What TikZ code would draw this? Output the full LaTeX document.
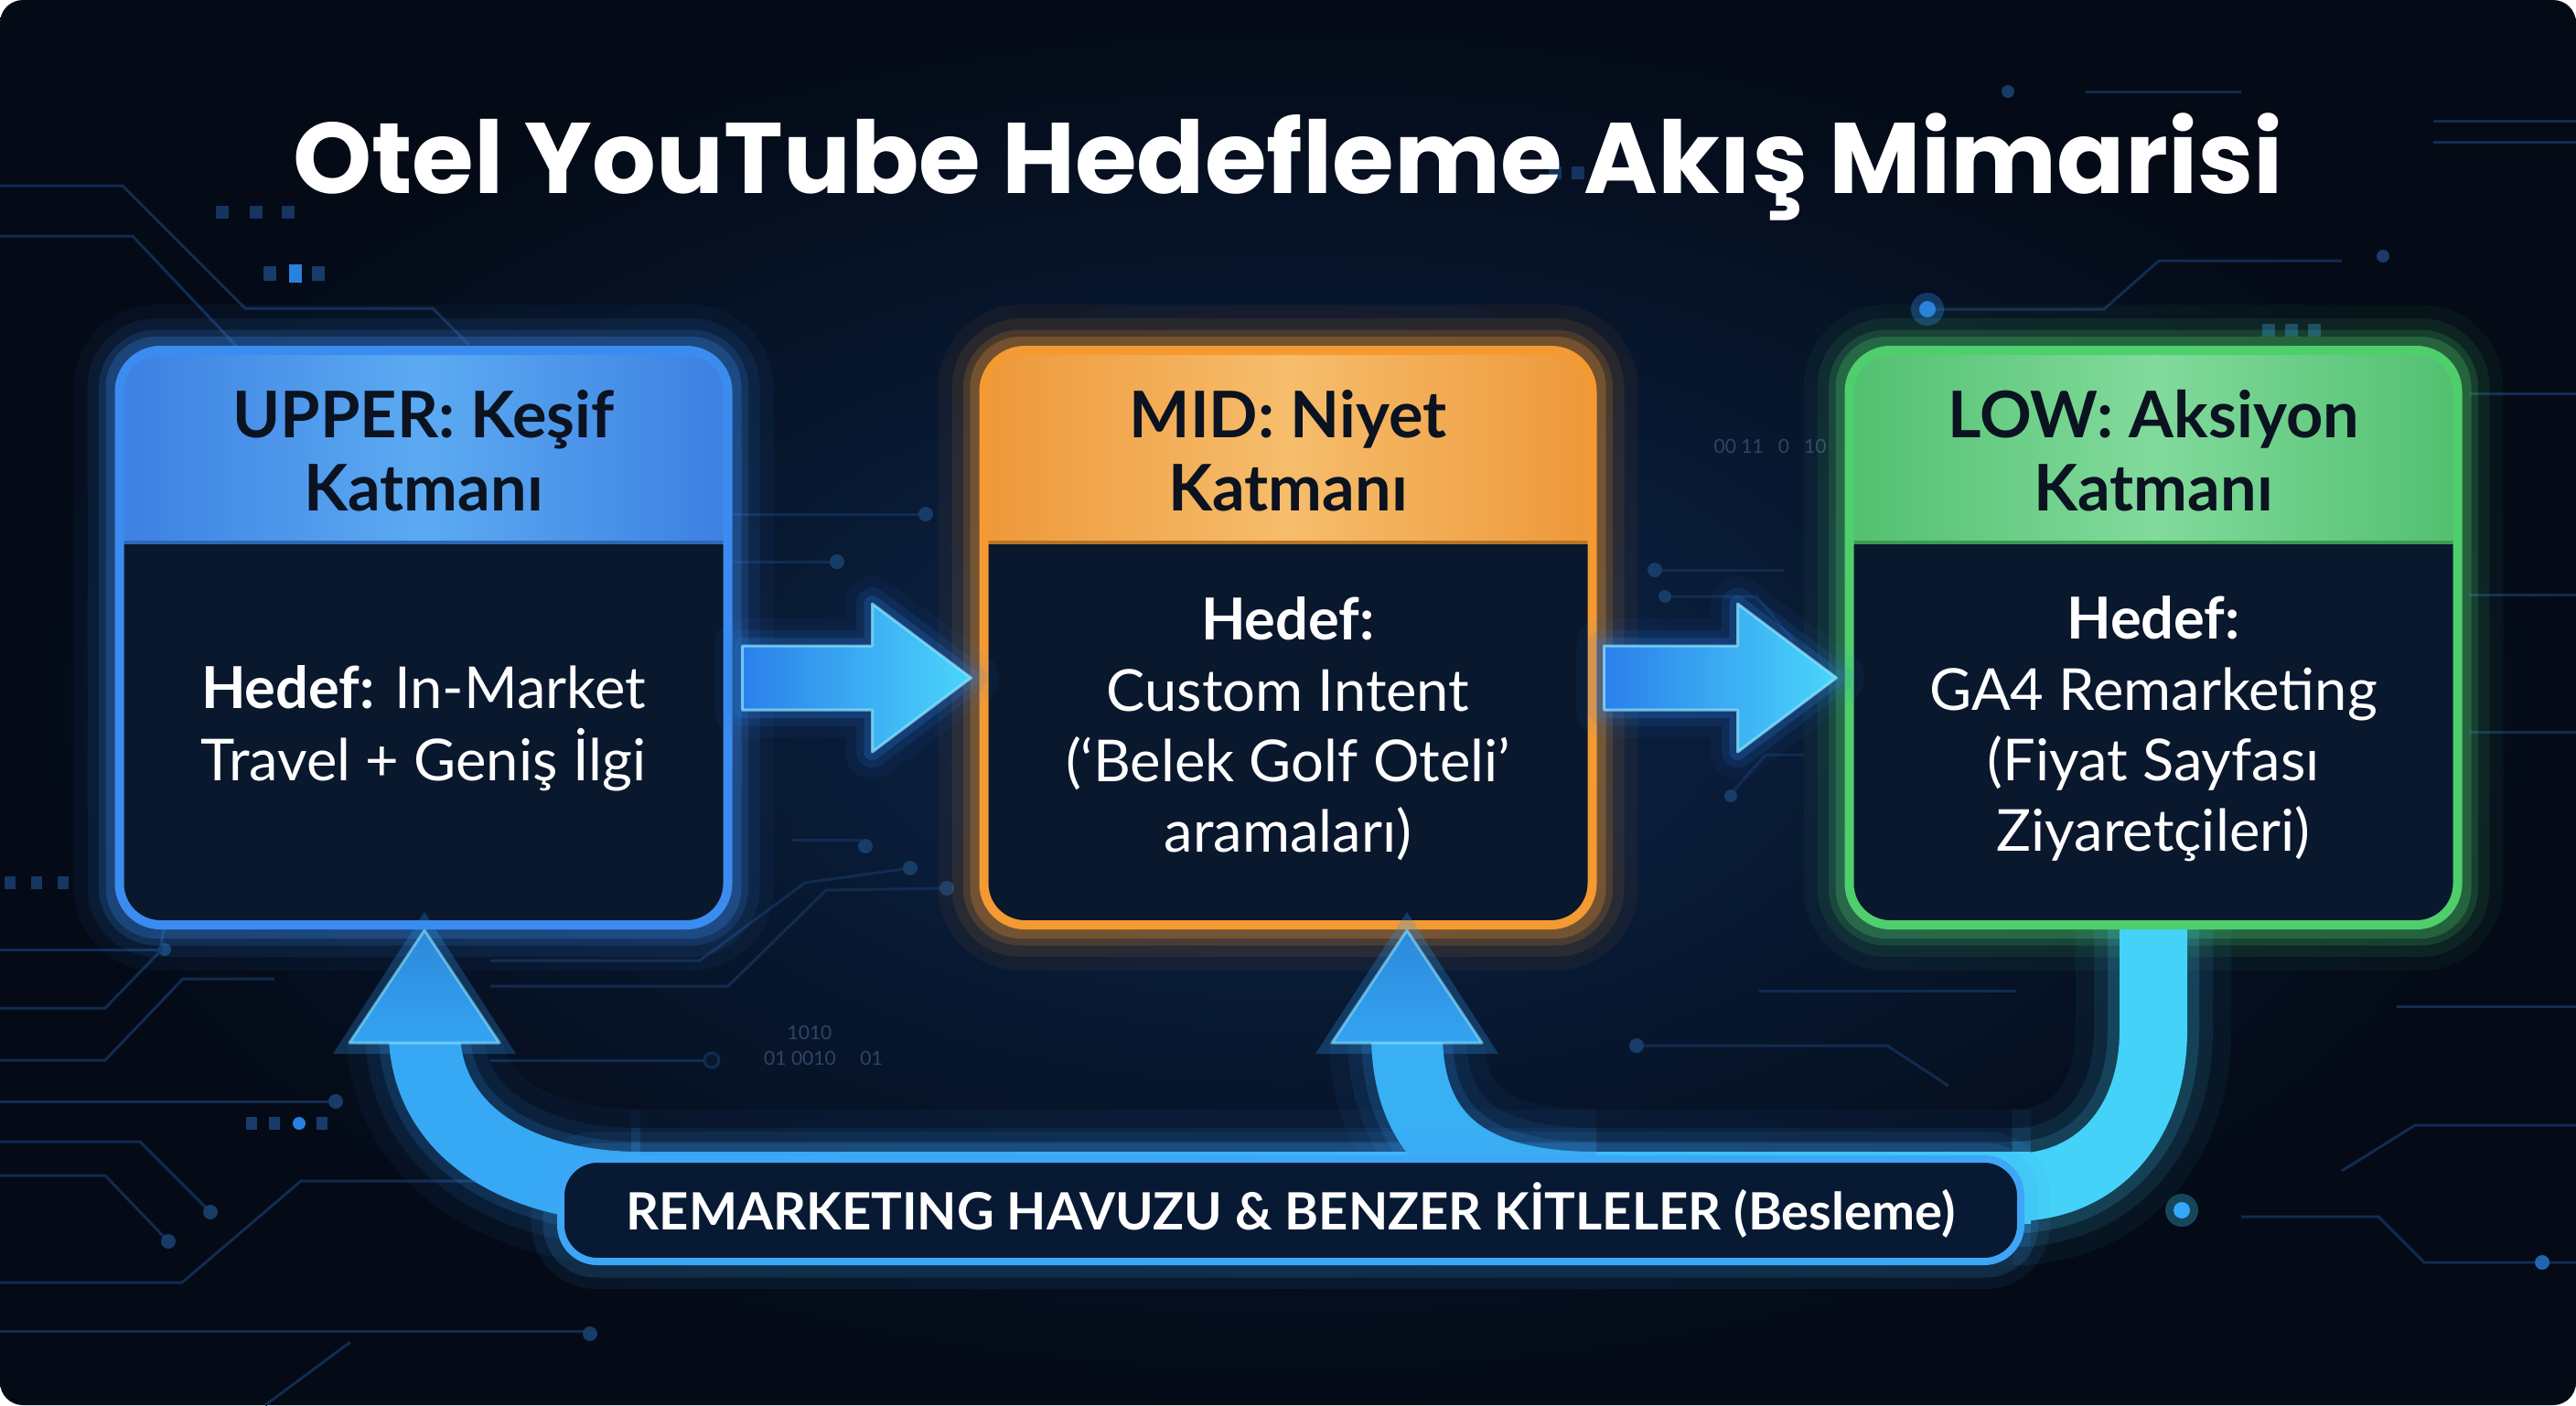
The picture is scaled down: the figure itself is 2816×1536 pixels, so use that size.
\documentclass[tikz,border=0pt]{standalone}
\usepackage{fontspec}
\setmainfont{Lato}
\newfontfamily\titlefont{Poppins}
\usetikzlibrary{calc}
\definecolor{bgin}{HTML}{0C2549}
\definecolor{bgout}{HTML}{040A16}
\definecolor{trace}{HTML}{112C50}
\definecolor{tracedot}{HTML}{173C68}
\definecolor{bodyc}{HTML}{0A182E}
\definecolor{blueB}{HTML}{3B8CF0}
\definecolor{blueH}{HTML}{3C80E2}
\definecolor{blueHm}{HTML}{5CAAF2}
\definecolor{orB}{HTML}{F59A32}
\definecolor{orH}{HTML}{EE983A}
\definecolor{orHm}{HTML}{F6BD6C}
\definecolor{grB}{HTML}{4ECF6C}
\definecolor{grH}{HTML}{52C070}
\definecolor{grHm}{HTML}{82DA9C}
\definecolor{hdrtxt}{HTML}{0B1220}
\definecolor{arrL}{HTML}{2B80EA}
\definecolor{arrR}{HTML}{4AD6FB}
\definecolor{fbBlue}{HTML}{3198F2}
\definecolor{fbCyan}{HTML}{44D2F8}
\definecolor{pillB}{HTML}{3EA6F6}
\definecolor{pillF}{HTML}{081A33}
\definecolor{bright}{HTML}{2A80DE}
\pgfdeclarelayer{back}
\pgfdeclarelayer{glow}
\pgfsetlayers{back,glow,main}
\tikzset{
  layerbox/.style n args={3}{rectangle, rounded corners=4.5mm, minimum width=66.5mm,
    minimum height=62.8mm, draw=#1, line width=1mm, fill=bodyc, inner sep=0pt,
    path picture={
      \shade[sharp corners, left color=#2, right color=#2, middle color=#3]
        (path picture bounding box.north west) rectangle
        ($(path picture bounding box.north east)+(0,210)$);
      \draw[sharp corners, #1!75!black, line width=0.4mm]
        ($(path picture bounding box.north west)+(0,210)$) --
        ($(path picture bounding box.north east)+(0,210)$);}},
  hdr/.style={font=\bfseries\fontsize{20}{22.8}\selectfont, text=hdrtxt, align=center, inner sep=0pt},
  bodytxt/.style={font=\fontsize{18}{22}\selectfont, text=white, align=center, inner sep=0pt},
  pill/.style={rectangle, rounded corners=4mm, minimum width=159.6mm, minimum height=11.2mm,
    fill=pillF, draw=pillB, line width=0.8mm, text=white, inner sep=0pt,
    font=\bfseries\fontsize{16}{18}\selectfont},
  trace/.style={draw=trace, line width=0.3mm},
  tdot/.style={fill=tracedot},
  bin/.style={text=trace!80!white!60!trace, font=\fontsize{6}{7}\selectfont, inner sep=0pt},
  fbstroke/.style={line width=7.8mm}
}
\begin{document}
\begin{tikzpicture}[x=0.1mm,y=-0.1mm]
\useasboundingbox (0,0) rectangle (2816,1536);

% ---------- background ----------
\begin{pgfonlayer}{back}
\fill[white] (0,0) rectangle (2816,1536);
\shade[inner color=bgin, outer color=bgout, rounded corners=2.5mm] (0,0) rectangle (2816,1536);
% circuit traces
\draw[trace] (0,203)--(134,203)--(268,337)--(473,337)--(513,377);
\draw[trace] (0,258)--(145,258)--(260,380);
\draw[trace] (0,1038)--(180,1038); \fill[tdot] (180,1038) circle (7);
\draw[trace] (0,1102)--(115,1102)--(175,1040)--(180,1010);
\draw[trace] (0,1159)--(115,1159)--(200,1070)--(300,1070);
\draw[trace] (0,1204)--(367,1204); \fill[tdot] (367,1204) circle (8);
\draw[trace] (0,1248)--(153,1248)--(230,1325); \fill[tdot] (230,1325) circle (8);
\draw[trace] (0,1285)--(115,1285)--(184,1357); \fill[tdot] (184,1357) circle (8);
\draw[trace] (0,1402)--(199,1402)--(329,1291)--(560,1291);
\draw[trace] (0,1455)--(640,1455); \fill[tdot] (645,1458) circle (8);
\draw[trace] (383,1467)--(290,1536);
\draw[trace] (802,562)--(1010,562); \fill[tdot] (1012,562) circle (8);
\draw[trace] (802,614)--(913,614); \fill[tdot] (915,614) circle (8);
\draw[trace] (536,1050)--(765,1050)--(880,965)--(995,949); \fill[tdot] (995,949) circle (8);
\draw[trace] (536,1078)--(796,1078)--(903,973)--(1033,971); \fill[tdot] (1035,971) circle (8);
\draw[trace] (865,918)--(941,918); \fill[tdot] (946,925) circle (8);
\draw[trace] (536,1159)--(773,1159); \draw[trace, fill=bodyc] (778,1159) circle (8);
\draw[trace] (1923,1083)--(2204,1083);
\draw[trace] (1789,1143)--(2063,1143)--(2130,1187); \fill[tdot] (1789,1143) circle (8);
\draw[trace] (1809,623)--(1950,623); \fill[tdot] (1809,623) circle (8);
\draw[trace] (1820,652)--(1920,652)--(1960,700); \fill[tdot] (1820,652) circle (7);
\draw[trace] (1972,825)--(1930,825)--(1890,870); \fill[tdot] (1892,870) circle (7);
\draw[trace] (2280,100)--(2450,100); \fill[tdot] (2195,100) circle (7);
\draw[trace] (2660,132)--(2816,132);
\draw[trace] (2660,155)--(2816,155);
\draw[trace] (2107,338)--(2300,338)--(2360,285)--(2560,285); \fill[tdot] (2605,280) circle (7);
\draw[trace] (2700,430)--(2816,430);
\draw[trace] (2700,650)--(2816,650);
\draw[trace] (2700,800)--(2816,800);
\draw[trace] (2620,1100)--(2816,1100);
\draw[trace] (2560,1280)--(2640,1230)--(2816,1230);
\draw[trace] (2450,1330)--(2600,1330)--(2650,1380)--(2816,1380);
% square markers and bright dots
\foreach \x in {243,280,315} \fill[tracedot!70!bgin] (\x-7,225) rectangle (\x+7,239);
\fill[tracedot] (288,291) rectangle (302,307);
\fill[bright] (316,289) rectangle (330,309);
\fill[tracedot] (341,291) rectangle (355,307);
\foreach \x in {11,40,69} \fill[tracedot!80!bgin] (\x-6,958) rectangle (\x+6,972);
\foreach \x in {275,300,352} \fill[tracedot] (\x-6,1221) rectangle (\x+6,1235);
\fill[bright] (327,1228) circle (7);
\foreach \x in {1700,1725,1750} \fill[tracedot!70!bgin] (\x-7,182) rectangle (\x+7,196);
\foreach \x in {2480,2505,2530} \fill[tracedot] (\x-7,354) rectangle (\x+7,368);
\fill[bright, opacity=0.35] (2107,338) circle (18);
\fill[bright] (2107,338) circle (9);
\fill[fbCyan, opacity=0.3] (2385,1323) circle (18);
\fill[fbCyan!80!blue] (2385,1323) circle (9);
\fill[bright!70!bgin] (2779,1380) circle (8);
\node[bin] (bin1) at (885,1129) {1010};
\node[bin] (bin2) at (900,1157) {01 0010 \quad 01};
\node[bin] (bin3) at (1935,488) {00 11 \enspace 0 \enspace 10};
\end{pgfonlayer}

% ---------- title ----------
\node[font=\titlefont\bfseries\fontsize{31.2}{35}\selectfont, text=white, anchor=base] (title)
  at (1408,211) {Otel YouTube Hedefleme Akış Mimarisi};

% ---------- layer boxes ----------
\node[layerbox={blueB}{blueH}{blueHm}] (upper) at (463,697) {};
\node[layerbox={orB}{orH}{orHm}] (mid) at (1408,697) {};
\node[layerbox={grB}{grH}{grHm}] (low) at (2354,697) {};

\begin{pgfonlayer}{glow}
\foreach \n/\c in {upper/blueB, mid/orB, low/grB}{
  \foreach \w/\o in {9mm/0.05, 6mm/0.09, 3.5mm/0.16, 2mm/0.25}{
    \draw[\c, line width=\w, opacity=\o, rounded corners=4.5mm] (\n.north west) rectangle (\n.south east);
  }
}
\end{pgfonlayer}

\node[hdr] (upperH) at (463,493) {UPPER: Keşif\\Katmanı};
\node[hdr] (midH) at (1408,493) {MID: Niyet\\Katmanı};
\node[hdr] (lowH) at (2354,493) {LOW: Aksiyon\\Katmanı};

\node[bodytxt, font=\fontsize{18}{22.5}\selectfont] (upperB) at (463,796)
  {\textbf{Hedef:} In-Market\\Travel + Geniş İlgi};
\node[bodytxt] (midB) at (1408,797)
  {\textbf{Hedef:}\\Custom Intent\\(‘Belek Golf Oteli’\\aramaları)};
\node[bodytxt] (lowB) at (2354,797)
  {\textbf{Hedef:}\\GA4 Remarketing\\(Fiyat Sayfası\\Ziyaretçileri)};

% ---------- block arrows between layers ----------
\coordinate (a1s) at ($(upper.east)+(11,44)$);
\coordinate (a1e) at ($(mid.west)+(-9,44)$);
\coordinate (a2s) at ($(mid.east)+(8,44)$);
\coordinate (a2e) at ($(low.west)+(-9,44)$);
\foreach \s/\e in {a1s/a1e, a2s/a2e}{
  \foreach \w/\o in {6mm/0.06, 3.5mm/0.12, 1.8mm/0.22}{
    \draw[arrL, line width=\w, opacity=\o, line join=round]
      ($(\s)+(0,-35)$) -- ($(\e)+(-108,-35)$) -- ($(\e)+(-108,-81)$) -- (\e) --
      ($(\e)+(-108,81)$) -- ($(\e)+(-108,35)$) -- ($(\s)+(0,35)$) -- cycle;
  }
  \shade[left color=arrL, right color=arrR]
      ($(\s)+(0,-35)$) -- ($(\e)+(-108,-35)$) -- ($(\e)+(-108,-81)$) -- (\e) --
      ($(\e)+(-108,81)$) -- ($(\e)+(-108,35)$) -- ($(\s)+(0,35)$) -- cycle;
  \draw[arrR!60!white, line width=0.3mm, opacity=0.7, line join=round]
      ($(\s)+(0,-35)$) -- ($(\e)+(-108,-35)$) -- ($(\e)+(-108,-81)$) -- (\e) --
      ($(\e)+(-108,81)$) -- ($(\e)+(-108,35)$) -- ($(\s)+(0,35)$) -- cycle;
}

% ---------- feedback loop ----------
\coordinate (tipL) at ($(upper.south)+(1,1)$);
\coordinate (tipM) at ($(mid.south)+(130,1)$);
\coordinate (fbL) at (700,1298);
\coordinate (fbM) at (1745,1298);
\coordinate (fbR) at (2200,1298);
\coordinate (bandL) at (690,1298);
\coordinate (bandR) at (2220,1298);
\foreach \w/\o in {17mm/0.05, 13mm/0.09, 10mm/0.16}{
  \draw[fbBlue, line width=\w, opacity=\o] (fbL) .. controls (570,1298) and (470,1240) .. ($(tipL)+(0,118)$);
  \draw[fbBlue, line width=\w, opacity=\o] (fbM) .. controls (1600,1298) and (1540,1240) .. ($(tipM)+(0,118)$);
  \draw[fbCyan, line width=\w, opacity=\o] (low.south) -- ++(0,110) .. controls +(0,100) and +(95,0) .. (fbR);
  \draw[fbBlue, line width=\w, opacity=\o] (bandL) -- (bandR);
  \fill[fbBlue, opacity=\o] ($(tipL)+(-100,135)$) -- ($(tipL)+(0,-20)$) -- ($(tipL)+(100,135)$) -- cycle;
  \fill[fbBlue, opacity=\o] ($(tipM)+(-100,135)$) -- ($(tipM)+(0,-20)$) -- ($(tipM)+(100,135)$) -- cycle;
}
\shade[left color=fbBlue!80!fbCyan, right color=fbCyan] ($(bandL)+(0,-39)$) rectangle ($(bandR)+(0,39)$);
\draw[fbBlue!70!fbCyan, fbstroke] (fbL) .. controls (570,1298) and (470,1240) .. ($(tipL)+(0,118)$);
\draw[fbBlue!60!fbCyan, fbstroke] (fbM) .. controls (1600,1298) and (1540,1240) .. ($(tipM)+(0,118)$);
\draw[fbCyan, line width=7.4mm] (low.south) -- ++(0,110) .. controls +(0,100) and +(95,0) .. (fbR) -- ++(-60,0);
\shade[top color=fbBlue!90!black, bottom color=fbBlue!80!fbCyan] (tipL) -- ($(tipL)+(-82,123)$) -- ($(tipL)+(82,123)$) -- cycle;
\shade[top color=fbBlue!90!black, bottom color=fbBlue!80!fbCyan] (tipM) -- ($(tipM)+(-82,123)$) -- ($(tipM)+(82,123)$) -- cycle;
\draw[fbCyan!60!white, line width=0.3mm, opacity=0.6, line join=round] (tipL) -- ($(tipL)+(-82,123)$) -- ($(tipL)+(82,123)$) -- cycle;
\draw[fbCyan!60!white, line width=0.3mm, opacity=0.6, line join=round] (tipM) -- ($(tipM)+(-82,123)$) -- ($(tipM)+(82,123)$) -- cycle;

% ---------- pill ----------
\foreach \w/\o in {6mm/0.08, 3.5mm/0.15}{
  \draw[pillB, line width=\w, opacity=\o, rounded corners=4mm] (611,1267) rectangle (2211,1379);
}
\node[pill] (pill) at (1411,1323) {REMARKETING HAVUZU \& BENZER KİTLELER (Besleme)};
\end{tikzpicture}
\end{document}
